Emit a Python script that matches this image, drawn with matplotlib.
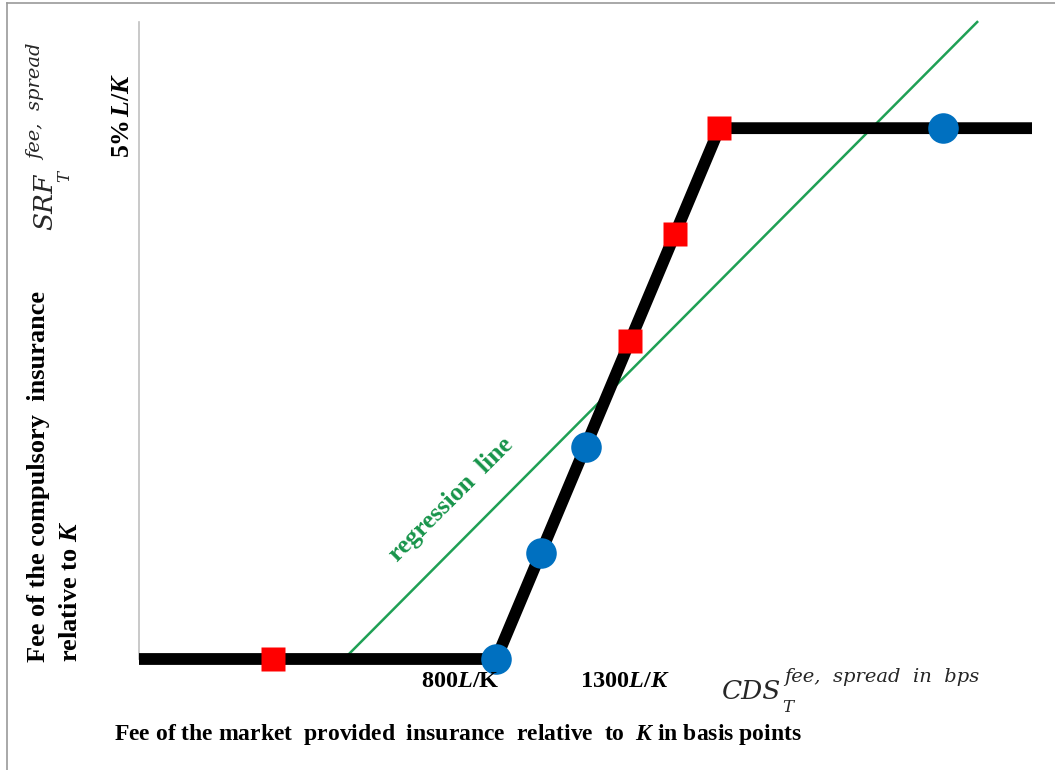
import numpy as np
import matplotlib.pyplot as plt
from matplotlib.lines import Line2D

plt.rcParams['font.family'] = 'Liberation Serif'
plt.rcParams['mathtext.fontset'] = 'custom'
plt.rcParams['mathtext.rm'] = 'Liberation Serif:bold'
plt.rcParams['mathtext.bf'] = 'Liberation Serif:bold'
plt.rcParams['mathtext.it'] = 'Liberation Serif:italic:bold'

# Fee schedule (x in bps, y in % of L/K)
kink_x = [0, 800, 1300, 2000]
kink_y = [0, 0, 5, 5]

# Observations
red_x = [300, 1100, 1200, 1300]
red_y = [0, 3, 4, 5]
blue_x = [800, 900, 1000, 1800]
blue_y = [0, 1, 2, 5]

# OLS fit through all observations
all_x = np.array(red_x + blue_x, dtype=float)
all_y = np.array(red_y + blue_y, dtype=float)
slope, intercept = np.polyfit(all_x, all_y, 1)
ymax = 6
reg_x = np.array([-intercept / slope, (ymax - intercept) / slope])
reg_y = slope * reg_x + intercept

W, H = 1055, 770
fig = plt.figure(figsize=(W / 100, H / 100), dpi=100)


def fx(px):
    return px / W


def fy(py):
    return 1 - py / H


ax = fig.add_axes([fx(139), fy(659), (1032 - 139) / W, (659 - 22) / H])
ax.set_xlim(0, 2000)
ax.set_ylim(0, ymax)
for s in ['top', 'right', 'bottom']:
    ax.spines[s].set_visible(False)
ax.spines['left'].set_color('#c0c0c0')
ax.spines['left'].set_linewidth(1.2)
ax.set_xticks([])
ax.set_yticks([])

ax.plot(reg_x, reg_y, color='#1fa055', lw=1.8, zorder=2, clip_on=False)
ax.plot(kink_x, kink_y, color='black', lw=8.5, solid_capstyle='butt',
        solid_joinstyle='miter', zorder=3, clip_on=False)
ax.plot(red_x, red_y, 's', color='#ff0000', ms=17, mec='none', zorder=4, clip_on=False)
ax.plot(blue_x, blue_y, 'o', color='#0070c0', ms=22, mec='none', zorder=4, clip_on=False)

ax.text(700, 1.5, 'regression  line', color='#17944a', fontsize=18.5,
        fontweight='bold', rotation=45, ha='center', va='center',
        rotation_mode='anchor')

# Axis titles
fig.text(fx(55), fy(662), 'Fee of the compulsory  insurance\nrelative to $K$',
         rotation=90, ha='center', va='bottom', multialignment='left',
         fontsize=19, fontweight='bold', linespacing=1.5)
fig.text(fx(458), fy(740), 'Fee of the market  provided  insurance  relative  to  $K$ in basis points',
         ha='center', va='baseline', fontsize=17, fontweight='bold')

# Tick labels
fig.text(fx(460), fy(687), '800$L$/K', ha='center', va='baseline',
         fontsize=17.5, fontweight='bold')
fig.text(fx(625), fy(687), '1300$L/K$', ha='center', va='baseline',
         fontsize=17.5, fontweight='bold')
fig.text(fx(134), fy(115), '5%$\\,L/K$', rotation=90, ha='right', va='center',
         fontsize=18.5, fontweight='bold')

# Variable names
sym = dict(family='DejaVu Serif', style='italic', color='#262626')
fig.text(fx(722), fy(699), 'CDS', fontsize=19, ha='left', va='baseline', **sym)
fig.text(fx(782), fy(712), 'T', fontsize=12, ha='left', va='baseline', **sym)
fig.text(fx(784), fy(682), 'fee,  spread  in  bps', fontsize=14, ha='left', va='baseline', **sym)

fig.text(fx(57), fy(230), 'SRF', fontsize=19, rotation=90, ha='right', va='bottom', **sym)
fig.text(fx(73), fy(182), 'T', fontsize=12, rotation=90, ha='right', va='bottom', **sym)
fig.text(fx(45), fy(160), 'fee,  spread', fontsize=14, rotation=90, ha='right', va='bottom', **sym)

# Outer frame
fig.add_artist(Line2D([fx(7), fx(7)], [0, fy(3)], color='#9a9a9a', lw=1.2))
fig.add_artist(Line2D([fx(7), 1], [fy(3), fy(3)], color='#9a9a9a', lw=1.2))

fig.savefig('out.png', dpi=100)
